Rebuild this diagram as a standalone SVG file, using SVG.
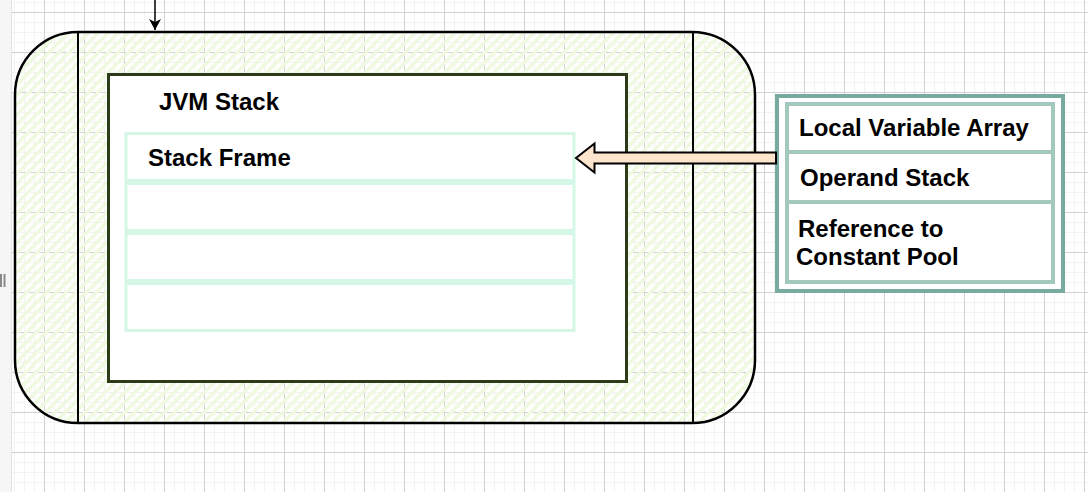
<svg xmlns="http://www.w3.org/2000/svg" width="1088" height="492" viewBox="0 0 1088 492">
  <defs>
    <pattern id="minor" x="4" y="2" width="10" height="10" patternUnits="userSpaceOnUse">
      <path d="M0 0H10M0 0V10" stroke="#f3f3f3" stroke-width="2" fill="none"/>
    </pattern>
    <pattern id="major" x="4" y="12" width="40" height="40" patternUnits="userSpaceOnUse">
      <path d="M0 0.5H40M0.5 0V40" stroke="#d2d2d2" stroke-width="1" fill="none"/>
    </pattern>
    <pattern id="hatch" width="7" height="7" patternUnits="userSpaceOnUse" patternTransform="rotate(45)">
      <rect x="0" y="0" width="3.5" height="7" fill="#eefae0"/>
    </pattern>
    <marker id="arrowHead" viewBox="0 0 12 12" refX="11" refY="6" markerWidth="12" markerHeight="12" markerUnits="userSpaceOnUse" orient="auto">
      <path d="M0 0L11 6L0 12L3 6Z" fill="#000"/>
    </marker>
    <style>
      .lbl{font-family:"Liberation Sans",Arial,Helvetica,sans-serif;font-weight:bold;font-size:24px;fill:#000}
      .frame{fill:#fff;stroke:#d4f7e6;stroke-width:3}
      .row{fill:#fff;stroke:#a3c9bf;stroke-width:4}
    </style>
  </defs>

  <!-- background grid -->
  <rect x="0" y="0" width="1088" height="492" fill="#fff"/>
  <rect x="0" y="0" width="1088" height="492" fill="url(#minor)"/>
  <rect x="0" y="0" width="1088" height="492" fill="url(#major)"/>
  <rect x="0" y="0" width="11" height="492" fill="#f6f6f6"/>
  <line x1="11.5" y1="0" x2="11.5" y2="492" stroke="#e4e4e4" stroke-width="1"/>
  <rect x="0" y="274" width="2" height="13" fill="#8a8a8a"/>
  <rect x="3.5" y="274" width="2" height="13" fill="#8a8a8a"/>

  <!-- process / container shape -->
  <g id="container">
    <rect x="15" y="32" width="740" height="391" rx="63" ry="63" fill="url(#hatch)" stroke="#000" stroke-width="2.5"/>
    <line x1="78" y1="32" x2="78" y2="423" stroke="#000" stroke-width="2"/>
    <line x1="693" y1="32" x2="693" y2="423" stroke="#000" stroke-width="2"/>
  </g>

  <!-- JVM Stack -->
  <g id="jvm-stack">
    <rect x="108.5" y="74.5" width="518" height="307" fill="#fff" stroke="#2b3b17" stroke-width="3"/>
    <text class="lbl" x="159" y="110">JVM Stack</text>
  </g>

  <g id="stack-frame-1">
    <rect class="frame" x="126" y="133.5" width="448" height="47"/>
    <text class="lbl" x="148" y="166">Stack Frame</text>
  </g>
  <g id="stack-frame-2">
    <rect class="frame" x="126" y="183.5" width="448" height="47"/>
  </g>
  <g id="stack-frame-3">
    <rect class="frame" x="126" y="233.5" width="448" height="47"/>
  </g>
  <g id="stack-frame-4">
    <rect class="frame" x="126" y="283.5" width="448" height="47"/>
  </g>

  <!-- frame details panel -->
  <g id="frame-details">
    <rect x="777" y="96" width="286" height="195" fill="#fff" stroke="#78aa9f" stroke-width="4"/>
    <g id="local-variable-array">
      <rect class="row" x="787" y="104" width="266" height="48"/>
      <text class="lbl" x="799" y="136">Local Variable Array</text>
    </g>
    <g id="operand-stack">
      <rect class="row" x="787" y="152" width="266" height="50"/>
      <text class="lbl" x="800" y="186">Operand Stack</text>
    </g>
    <g id="constant-pool-ref">
      <rect class="row" x="787" y="202" width="266" height="80"/>
      <text class="lbl" x="798" y="237">Reference to</text>
      <text class="lbl" x="796" y="265">Constant Pool</text>
    </g>
  </g>

  <!-- connectors -->
  <g id="connectors">
    <line x1="155" y1="0" x2="155" y2="30" stroke="#000" stroke-width="1.5" marker-end="url(#arrowHead)"/>
    <path d="M776 152.5 L594.5 152.5 L594.5 143.5 L576 158 L594.5 172.5 L594.5 163.5 L776 163.5 Z" fill="#fce4cd" stroke="#000" stroke-width="2" stroke-linejoin="miter"/>
  </g>
</svg>
